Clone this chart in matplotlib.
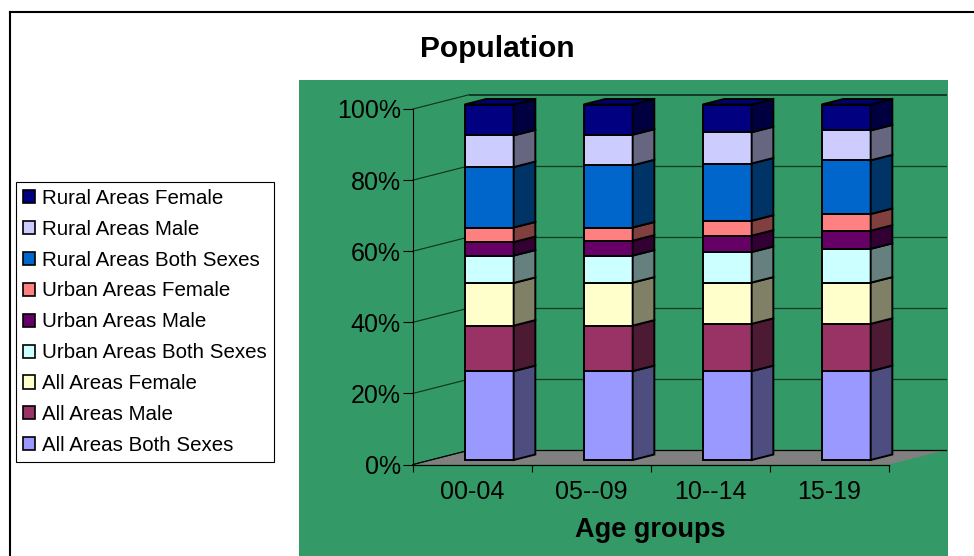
import matplotlib
matplotlib.use("Agg")
import matplotlib.pyplot as plt
from matplotlib.patches import Patch

categories = ["00-04", "05--09", "10--14", "15-19"]
series_names = ["All Areas Both Sexes", "All Areas Male", "All Areas Female",
                "Urban Areas Both Sexes", "Urban Areas Male", "Urban Areas Female",
                "Rural Areas Both Sexes", "Rural Areas Male", "Rural Areas Female"]
all_both = [25.0, 25.0, 25.0, 25.0]
all_male = [12.8, 12.8, 13.3, 13.3]
all_female = [12.0, 12.1, 11.6, 11.6]
urban_both = [7.7, 7.6, 8.6, 9.5]
urban_male = [3.8, 4.2, 4.6, 5.1]
urban_female = [4.1, 3.7, 4.2, 4.7]
rural_both = [17.0, 17.5, 16.1, 15.1]
rural_male = [8.9, 8.6, 8.8, 8.4]
rural_female = [8.7, 8.5, 7.8, 7.3]
series = [all_both, all_male, all_female, urban_both, urban_male, urban_female,
          rural_both, rural_male, rural_female]
front_colors = ["#9999FF", "#993366", "#FFFFCC", "#CCFFFF", "#660066",
                "#FF8080", "#0066CC", "#CCCCFF", "#000080"]
side_colors = ["#4D4D80", "#4D1A33", "#808066", "#668080", "#330033",
               "#804040", "#003366", "#666680", "#000040"]
GREEN = "#339966"
W, H = 974, 556
plt.rcParams["font.family"] = ["Liberation Sans", "DejaVu Sans"]

fig = plt.figure(figsize=(W / 100, H / 100), dpi=100, facecolor="white")

# chart-area frame (only top and left fall inside the picture)
frame = fig.add_axes([10 / W, 0, (W - 10) / W, (H - 12) / H], zorder=0)
frame.set_xticks([]); frame.set_yticks([])
frame.spines["right"].set_visible(False)
frame.spines["bottom"].set_visible(False)
frame.spines["left"].set_linewidth(1.5)
frame.spines["top"].set_linewidth(1.5)
frame.set_facecolor("white")

# plot area
L, R, T, B = 299, 948, 80, 556
ax = fig.add_axes([L / W, (H - B) / H, (R - L) / W, (B - T) / H], zorder=1)
ax.set_facecolor(GREEN)
x0, cat_w, y0, pct_h = 413, 119, 464.5, 3.555
ax.set_xlim((L - x0) / cat_w, (R - x0) / cat_w)
ax.set_ylim((y0 - B) / pct_h, (y0 - T) / pct_h)
DX, DY = 57 / cat_w, 14.5 / pct_h   # full depth in data units
d_front, d_back = 0.31, 0.69
bar_w = 49 / cat_w
n = len(categories)

for s in ("top", "right"):
    ax.spines[s].set_visible(False)
ax.spines["left"].set_position(("data", 0))
ax.spines["bottom"].set_position(("data", 0))
ax.spines["left"].set_bounds(0, 100)
ax.spines["bottom"].set_bounds(0, n)
ax.spines["left"].set_zorder(2)
ax.spines["bottom"].set_zorder(2)
for s in ("left", "bottom"):
    ax.spines[s].set_linewidth(0.8)

yt = [0, 20, 40, 60, 80, 100]
ax.set_yticks(yt)
ax.set_yticklabels([f"{v}%" for v in yt], fontsize=18)
ax.tick_params(axis="y", length=7.2, width=0.8, pad=1.5)
ax.set_xticks(range(n + 1))
ax.set_xticklabels([""] * (n + 1))
ax.tick_params(axis="x", length=5, width=0.8)
for i, c in enumerate(categories):
    ax.annotate(c, (i + 0.5, 0), xytext=(0, -19.5), textcoords="offset points",
                ha="center", va="center", fontsize=18, color="black",
                annotation_clip=False)
ax.annotate("Age groups", (2 - 0.005, 0), xytext=(0, -47), textcoords="offset points",
            ha="center", va="center", fontsize=19.5, fontweight="bold")
ax.annotate("Population", (0.708, 100), xytext=(0, 43.5), textcoords="offset points",
            ha="center", va="center", fontsize=21.5, fontweight="bold",
            annotation_clip=False)

# floor
ax.fill([0, n, n + DX, DX], [0, 0, DY, DY], facecolor="#808080", edgecolor="none", zorder=1)
ax.plot([0, n], [0, 0], color="black", lw=0.8, zorder=1.5)
ax.plot([0, DX], [0, DY], color="black", lw=0.8, zorder=1.5)

# walls' gridlines
for v in yt:
    ax.plot([0, DX], [v, v + DY], color="#10301f", lw=0.8, zorder=1.2)
    ax.plot([DX, n + DX], [v + DY, v + DY], color="#123a26" if v else "black",
            lw=1.4 if v == 100 else 0.9, zorder=1.2)

# bars
for i in range(n):
    xl = i + 0.5 - bar_w / 2 + DX * d_front - 1 / cat_w
    xr = xl + bar_w
    sx = DX * (d_back - d_front)
    base = DY * d_front
    dz = DY * (d_back - d_front)
    bottom = 0.0
    for vals, fc, sc in zip(series, front_colors, side_colors):
        v = vals[i]
        ax.bar(xl + bar_w / 2, v, width=bar_w, bottom=bottom + base, facecolor=fc,
               edgecolor="black", linewidth=1.4, zorder=3 + i)
        ax.fill([xr, xr + sx, xr + sx, xr],
                [bottom + base, bottom + base + dz, bottom + v + base + dz, bottom + v + base],
                facecolor=sc, edgecolor="black", linewidth=1.4, zorder=3 + i)
        bottom += v
    top = bottom + base
    ax.fill([xl, xr, xr + sx, xl + sx], [top, top, top + dz, top + dz],
            facecolor="#000070", edgecolor="black", linewidth=1.4, zorder=3 + i)

# legend
handles = [Patch(facecolor=c, edgecolor="black", linewidth=1.2, label=l)
           for c, l in zip(front_colors[::-1], series_names[::-1])]
leg = fig.legend(handles=handles, loc="upper left",
                 bbox_to_anchor=(15.5 / W, 1 - 181.5 / H), bbox_transform=fig.transFigure,
                 fontsize=14.8, frameon=True, fancybox=False, framealpha=1,
                 edgecolor="black", facecolor="white", borderpad=0.35,
                 labelspacing=0.58, handlelength=0.6, handleheight=0.6,
                 handletextpad=0.36, borderaxespad=0)
leg.get_frame().set_linewidth(0.8)
leg.set_zorder(5)

fig.savefig("out.png", dpi=100, facecolor="white")
